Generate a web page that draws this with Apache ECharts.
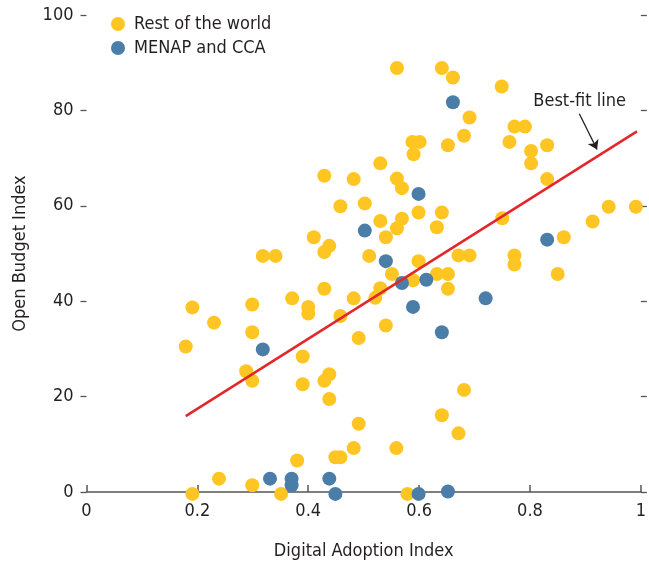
<!DOCTYPE html>
<html>
<head>
<meta charset="utf-8">
<script src="https://cdn.jsdelivr.net/npm/echarts@6/dist/echarts.min.js"></script>
<style>
html,body{margin:0;padding:0;background:#fff;}
#c{width:649px;height:565px;}
</style>
</head>
<body>
<div id="c"></div>
<script>
// Rest of the world: [Digital Adoption Index, Open Budget Index]
const restOfWorld = [
  [0.179,30.5],[0.191,38.7],[0.191,-0.4],[0.230,35.5],[0.239,2.8],[0.288,25.3],
  [0.299,23.3],[0.299,33.5],[0.299,39.3],[0.299,1.4],[0.318,49.5],[0.341,49.5],
  [0.351,-0.4],[0.371,40.6],[0.380,6.6],[0.390,28.4],[0.390,22.6],[0.400,38.8],
  [0.400,37.4],[0.410,53.4],[0.429,66.3],[0.429,50.3],[0.429,42.6],[0.429,23.3],
  [0.438,51.6],[0.438,24.7],[0.438,19.5],[0.449,7.3],[0.458,7.3],[0.458,59.9],
  [0.458,36.9],[0.482,65.6],[0.482,40.6],[0.482,9.2],[0.491,32.3],[0.491,14.3],
  [0.502,60.5],[0.510,49.5],[0.521,40.7],[0.530,68.9],[0.530,56.8],[0.530,42.7],
  [0.540,53.4],[0.540,34.9],[0.551,45.7],[0.559,9.2],[0.560,88.9],[0.560,65.7],
  [0.560,55.3],[0.569,63.7],[0.569,57.3],[0.579,-0.4],[0.588,73.4],[0.590,70.8],
  [0.589,44.4],[0.599,58.6],[0.599,48.4],[0.601,73.4],[0.632,55.5],[0.632,45.7],
  [0.641,88.9],[0.641,58.6],[0.641,16.1],[0.652,72.7],[0.652,45.7],[0.652,42.6],
  [0.661,86.9],[0.671,49.6],[0.671,12.3],[0.681,74.7],[0.681,21.4],[0.691,78.5],
  [0.691,49.6],[0.749,85.0],[0.750,57.4],[0.763,73.4],[0.772,76.6],[0.772,49.6],
  [0.772,47.7],[0.791,76.6],[0.802,71.5],[0.802,68.9],[0.831,72.7],[0.831,65.6],
  [0.850,45.7],[0.861,53.4],[0.913,56.7],[0.942,59.8],[0.991,59.8]
];
// MENAP and CCA
const menapCCA = [
  [0.318,29.9],[0.331,2.8],[0.370,2.8],[0.370,1.4],[0.438,2.8],[0.449,-0.4],
  [0.502,54.8],[0.540,48.4],[0.569,43.8],[0.589,38.8],[0.599,62.5],[0.599,-0.4],
  [0.613,44.5],[0.641,33.5],[0.652,0.1],[0.661,81.7],[0.720,40.6],[0.831,52.9]
];
// Best-fit line endpoints
const bestFit = [[0.179,15.9],[0.993,75.6]];
// Annotation
const annotationText = 'Best-fit line';
const annotationAnchor = [[0.806,81.9]];
const arrowCoords = [[0.889,79.3],[0.921,71.8]];

const xTicks = {min:0, max:1, interval:0.2};
const yTicks = {min:0, max:100, interval:20};

const FONT = '"DejaVu Sans Condensed","Liberation Sans Narrow","Roboto",sans-serif';
const TXT = '#231f20';

const chart = echarts.init(document.getElementById('c'));
chart.setOption({
  animation:false,
  textStyle:{fontFamily:FONT},
  grid:{left:86.5,right:6,top:15,bottom:70,containLabel:false},
  legend:{
    data:['Rest of the world','MENAP and CCA'],
    orient:'vertical', left:111, top:15, itemGap:6, padding:0,
    itemWidth:14, itemHeight:14, icon:'circle',
    textStyle:{fontFamily:FONT,fontSize:18,color:TXT,lineHeight:18,padding:[0,0,0,4]}
  },
  xAxis:{
    type:'value', min:xTicks.min, max:xTicks.max, interval:xTicks.interval,
    name:'Digital Adoption Index', nameLocation:'middle', nameGap:50,
    nameTextStyle:{fontFamily:FONT,fontSize:18,color:TXT},
    axisLine:{show:true,onZero:false,lineStyle:{color:'#555',width:1.5}},
    axisTick:{show:true,inside:true,length:7,lineStyle:{color:'#555',width:1.5}},
    axisLabel:{fontFamily:FONT,fontSize:18,color:TXT,margin:10,
      formatter:v=>String(+v.toFixed(1))},
    splitLine:{show:false}
  },
  yAxis:[{
    type:'value', min:yTicks.min, max:yTicks.max, interval:yTicks.interval,
    name:'Open Budget Index', nameLocation:'middle', nameGap:57, nameRotate:90,
    nameTextStyle:{fontFamily:FONT,fontSize:18,color:TXT},
    axisLine:{show:false},
    axisTick:{show:true,inside:false,length:6,lineStyle:{color:'#555',width:1.3}},
    axisLabel:{fontFamily:FONT,fontSize:18,color:TXT,margin:13},
    splitLine:{show:false}
  },{
    type:'value', position:'right', min:yTicks.min, max:yTicks.max, interval:yTicks.interval,
    axisLine:{show:false},
    axisTick:{show:true,inside:false,length:6,lineStyle:{color:'#555',width:1.3}},
    axisLabel:{show:false},
    splitLine:{show:false}
  }],
  series:[
    {name:'Rest of the world',type:'scatter',data:restOfWorld,symbolSize:14,clip:false,
     itemStyle:{color:'#FFC522',opacity:1},z:2},
    {name:'MENAP and CCA',type:'scatter',data:menapCCA,symbolSize:14,clip:false,
     itemStyle:{color:'#4A7EA8',opacity:1},z:3},
    {name:'fit',type:'line',data:bestFit,showSymbol:false,symbol:'none',silent:true,
     lineStyle:{color:'#E3262A',width:2.5},z:4},
    {name:'annot',type:'scatter',data:annotationAnchor,symbolSize:0,silent:true,
     label:{show:true,position:'right',distance:0,formatter:annotationText,
       fontFamily:FONT,fontSize:18,color:TXT,opacity:1},z:5},
    {name:'arrow',type:'lines',coordinateSystem:'cartesian2d',silent:true,
     symbol:['none','arrow'],symbolSize:9,
     data:[{coords:arrowCoords}],
     lineStyle:{color:TXT,width:1.3,opacity:1},z:5}
  ]
});
</script>
</body>
</html>
